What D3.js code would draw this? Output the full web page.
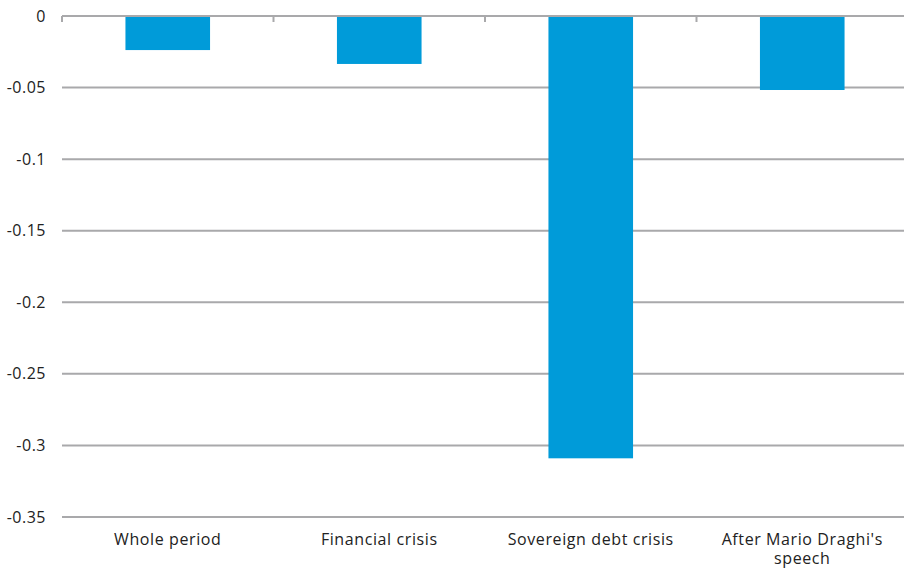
<!DOCTYPE html>
<html><head><meta charset="utf-8">
<script src="https://cdn.jsdelivr.net/npm/d3@7"></script>
<style>body{margin:0;background:#fff}svg{display:block}text{font-family:"Open Sans",sans-serif;fill:#222}</style>
</head><body><svg id="c" width="904" height="569"></svg>
<script>
const categories = ["Whole period","Financial crisis","Sovereign debt crisis","After Mario Draghi's speech"];
const values = [-0.0238, -0.0335, -0.309, -0.0517];
const yTicks = [0,-0.05,-0.1,-0.15,-0.2,-0.25,-0.3,-0.35];
const yTickLabels = ["0","-0.05","-0.1","-0.15","-0.2","-0.25","-0.3","-0.35"];

(function(){
const svg = d3.select("#c");
const mL = 62, mR = 908, mT = 16, mB = 517;
const x = d3.scaleBand().domain(categories).range([mL,mR]).paddingInner(0.6).paddingOuter(0.3);
const y = d3.scaleLinear().domain([0,-0.35]).range([mT,mB]);
const grid = "#a9a9ab";

svg.append("g").selectAll("line").data(yTicks.slice(1)).join("line")
  .attr("x1",mL).attr("x2",mR).attr("y1",d=>y(d)).attr("y2",d=>y(d))
  .attr("stroke",grid).attr("stroke-width",2);

svg.append("g").selectAll("text").data(yTicks).join("text")
  .attr("x",46).attr("y",d=>y(d)).attr("dy","0.35em").attr("text-anchor","end")
  .attr("font-size",16).attr("letter-spacing",0.5).text((d,i)=>yTickLabels[i]);

svg.append("g").selectAll("rect").data(values).join("rect")
  .attr("x",(d,i)=>x(categories[i])).attr("width",x.bandwidth())
  .attr("y",y(0)).attr("height",d=>y(d)-y(0)).attr("fill","#009bd9");

svg.append("line").attr("x1",mL).attr("x2",mR).attr("y1",y(0)).attr("y2",y(0))
  .attr("stroke",grid).attr("stroke-width",2);
const step = x.step();
const bounds = d3.range(categories.length+1).map(i=>mL+i*step);
svg.append("g").selectAll("line").data(bounds).join("line")
  .attr("x1",d=>d).attr("x2",d=>d).attr("y1",y(0)).attr("y2",y(0)+6)
  .attr("stroke",grid).attr("stroke-width",2);

const lines = [["Whole period"],["Financial crisis"],["Sovereign debt crisis"],["After Mario Draghi's","speech"]];
const g = svg.append("g");
categories.forEach((c,i)=>{
  lines[i].forEach((t,j)=>{
    g.append("text").attr("x",x(c)+x.bandwidth()/2).attr("y",545+j*19)
      .attr("text-anchor","middle").attr("font-size",16).attr("letter-spacing",0.6).text(t);
  });
});
})();
</script></body></html>
